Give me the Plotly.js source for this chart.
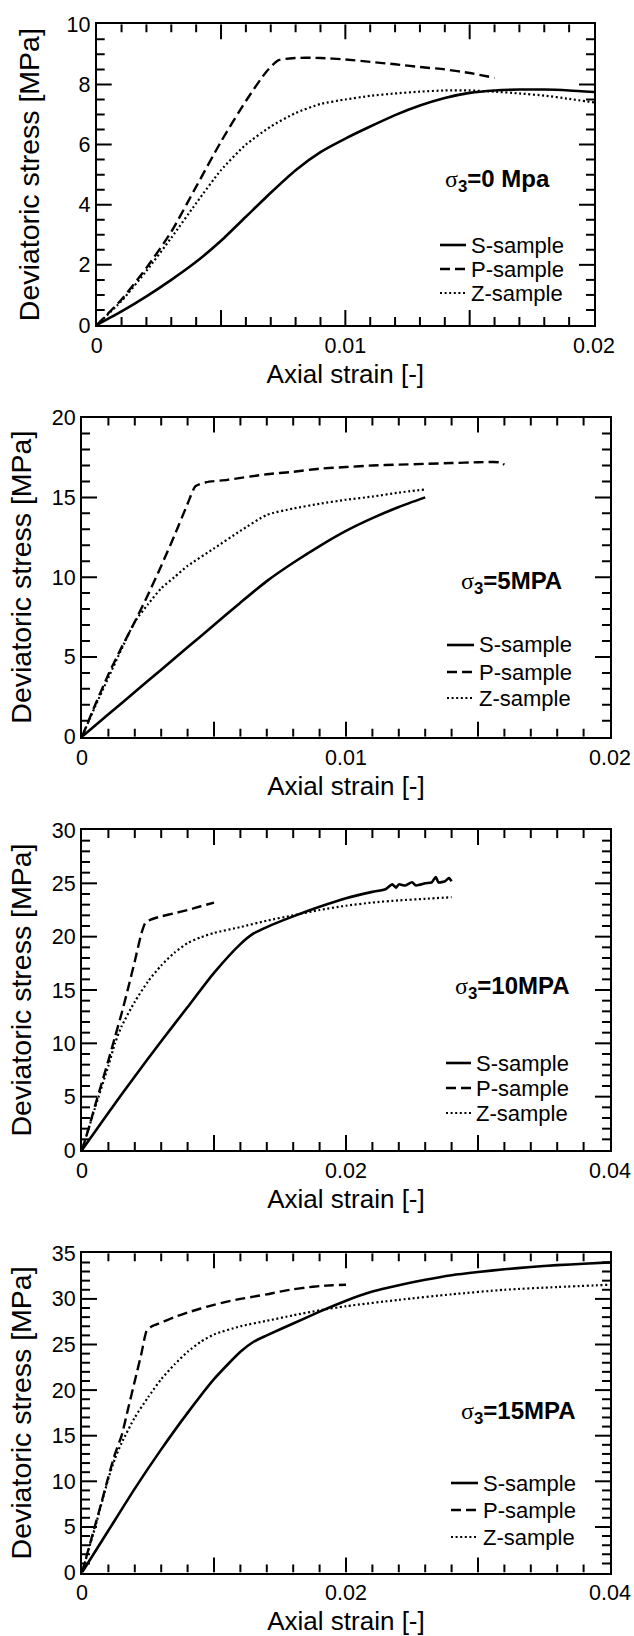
<!DOCTYPE html>
<html><head><meta charset="utf-8">
<script src="https://cdn.plot.ly/plotly-3.0.1.min.js"></script>
<style>html,body{margin:0;padding:0;background:#fff}</style>
</head><body><div id="chart" style="width:634px;height:1636px"></div>
<script>
// ---------- data ----------
// Panel 1: sigma3 = 0 MPa
const strainS0 = [0,0.001,0.002,0.003,0.004,0.005,0.006,0.007,0.008,0.009,0.010,0.011,0.012,0.013,0.014,0.015,0.016,0.017,0.018,0.019,0.020];
const stressS0 = [0,0.45,0.95,1.5,2.1,2.8,3.6,4.4,5.15,5.75,6.2,6.6,6.98,7.3,7.55,7.72,7.8,7.83,7.83,7.8,7.75];
const strainP0 = [0,0.001,0.002,0.003,0.004,0.005,0.006,0.0068,0.0073,0.008,0.009,0.010,0.011,0.012,0.013,0.014,0.015,0.016];
const stressP0 = [0,0.85,1.9,3.1,4.6,6.1,7.45,8.4,8.8,8.88,8.88,8.83,8.75,8.67,8.58,8.5,8.38,8.22];
const strainZ0 = [0,0.001,0.002,0.003,0.004,0.005,0.006,0.007,0.008,0.009,0.010,0.011,0.012,0.013,0.014,0.015,0.016,0.017,0.018,0.019,0.020];
const stressZ0 = [0,0.8,1.8,2.9,4.05,5.15,6.0,6.6,7.05,7.35,7.5,7.62,7.7,7.76,7.8,7.8,7.76,7.7,7.63,7.52,7.4];

// Panel 2: sigma3 = 5 MPa
const strainS5 = [0,0.001,0.002,0.003,0.004,0.005,0.006,0.007,0.008,0.009,0.010,0.011,0.012,0.013];
const stressS5 = [0,1.4,2.8,4.2,5.6,7.0,8.4,9.75,10.9,11.95,12.9,13.7,14.4,15.0];
const strainP5 = [0,0.0005,0.001,0.0015,0.002,0.0025,0.003,0.0035,0.004,0.0043,0.0047,0.0055,0.007,0.008,0.009,0.010,0.011,0.012,0.013,0.014,0.015,0.0158,0.016];
const stressP5 = [0,2.0,3.9,5.6,7.2,8.9,10.7,12.6,14.6,15.7,15.95,16.1,16.45,16.6,16.8,16.9,17.0,17.05,17.1,17.15,17.2,17.2,17.05];
const strainZ5 = [0,0.0005,0.001,0.0015,0.002,0.0025,0.003,0.0035,0.004,0.005,0.006,0.007,0.008,0.009,0.010,0.011,0.012,0.013];
const stressZ5 = [0,1.9,3.7,5.5,7.2,8.3,9.3,10.0,10.7,11.8,12.9,13.9,14.3,14.6,14.85,15.05,15.3,15.5];

// Panel 3: sigma3 = 10 MPa
const strainS10 = [0,0.002,0.004,0.006,0.008,0.010,0.012,0.013,0.014,0.016,0.018,0.020,0.022,0.023,0.0235,0.0238,0.024,0.0245,0.025,0.0253,0.026,0.0265,0.0268,0.027,0.0275,0.0278,0.028];
const stressS10 = [0,3.5,6.9,10.2,13.4,16.6,19.3,20.3,20.9,21.9,22.8,23.6,24.2,24.45,24.9,24.6,24.9,24.8,25.1,24.8,25.0,25.1,25.6,25.1,25.2,25.5,25.2];
const strainP10 = [0,0.0005,0.001,0.0015,0.002,0.0025,0.003,0.0035,0.004,0.0045,0.0048,0.0052,0.006,0.007,0.008,0.009,0.010];
const stressP10 = [0,2.0,4.2,6.3,8.4,10.6,12.8,15.2,17.7,20.3,21.3,21.6,21.9,22.2,22.5,22.85,23.2];
const strainZ10 = [0,0.001,0.002,0.0025,0.003,0.004,0.005,0.006,0.007,0.008,0.009,0.010,0.012,0.014,0.016,0.018,0.020,0.022,0.024,0.026,0.028];
const stressZ10 = [0,4.0,7.9,10.0,11.6,13.9,15.8,17.3,18.5,19.4,19.95,20.35,20.9,21.5,22.0,22.5,22.9,23.2,23.4,23.55,23.7];

// Panel 4: sigma3 = 15 MPa
const strainS15 = [0,0.002,0.004,0.006,0.008,0.010,0.012,0.013,0.014,0.016,0.018,0.020,0.022,0.024,0.026,0.028,0.030,0.032,0.034,0.036,0.038,0.040];
const stressS15 = [0,4.6,9.2,13.5,17.5,21.2,24.2,25.3,26.0,27.3,28.6,29.8,30.8,31.5,32.1,32.6,32.95,33.25,33.5,33.7,33.85,34.0];
const strainP15 = [0,0.0005,0.001,0.0015,0.002,0.0025,0.003,0.0035,0.004,0.0045,0.0049,0.0053,0.006,0.007,0.008,0.009,0.010,0.011,0.012,0.013,0.014,0.015,0.016,0.017,0.018,0.019,0.020];
const stressP15 = [0,2.6,5.2,7.8,10.5,13.0,15.0,18.0,21.0,24.0,26.5,27.0,27.4,28.0,28.5,28.95,29.35,29.7,30.0,30.25,30.5,30.8,31.05,31.25,31.4,31.5,31.55];
const strainZ15 = [0,0.001,0.002,0.0025,0.003,0.004,0.005,0.006,0.007,0.008,0.009,0.010,0.012,0.014,0.016,0.018,0.020,0.024,0.028,0.032,0.036,0.040];
const stressZ15 = [0,5.0,10.3,12.5,14.2,17.0,19.2,21.2,22.8,24.2,25.3,26.1,27.0,27.6,28.2,28.75,29.2,29.9,30.5,31.0,31.3,31.55];

// tick labels
const xLabels20 = [0, 0.01, 0.02];
const xLabelText20 = ['0', '0.01', '0.02'];
const xLabels40 = [0, 0.02, 0.04];
const xLabelText40 = ['0', '0.02', '0.04'];

// axis ranges and tick steps
const xRanges = [0.02, 0.02, 0.04, 0.04];
const xMajorStep = [0.005, 0.005, 0.01, 0.01];
const xMinorStep = [0.001, 0.001, 0.002, 0.002];
const yRanges = [10, 20, 30, 35];
const yMajorStep = [2, 5, 5, 5];
const yMinorStep = [0.5, 1, 1, 1];

const seriesNames = ['S-sample','P-sample','Z-sample'];
const panelLabels = ['=0 Mpa','=5MPA','=10MPA','=15MPA'];
const xTitle = 'Axial strain [-]';
const yTitle = 'Deviatoric stress [MPa]';

// ---------- layout ----------
const W = 634, H = 1636;
const fx = px => px / W;
const fy = py => 1 - py / H;
const FONT = '"Liberation Sans", Arial, Helvetica, sans-serif';

const panels = [
  {data:[[strainS0,stressS0],[strainP0,stressP0],[strainZ0,stressZ0]], box:[96.7,594,24.3,325],
   xv:xLabels20, xt:xLabelText20,
   lab:[552,181], legText:469, legLine:[440,466], legRows:[245,269,293], ystand:18},
  {data:[[strainS5,stressS5],[strainP5,stressP5],[strainZ5,stressZ5]], box:[82,610,417.6,736.7],
   xv:xLabels20, xt:xLabelText20,
   lab:[564,582], legText:477, legLine:[447,474], legRows:[645,672,698], ystand:12},
  {data:[[strainS10,stressS10],[strainP10,stressP10],[strainZ10,stressZ10]], box:[82,610,830,1150],
   xv:xLabels40, xt:xLabelText40,
   lab:[572,987], legText:474, legLine:[446,471], legRows:[1063,1088,1113], ystand:12},
  {data:[[strainS15,stressS15],[strainP15,stressP15],[strainZ15,stressZ15]], box:[82,610,1253.3,1572.5],
   xv:xLabels40, xt:xLabelText40,
   lab:[578,1412], legText:481, legLine:[451,478], legRows:[1483,1510,1537], ystand:12}
];

const lineStyles = [
  {color:'black', width:2.6},
  {color:'black', width:2.4, dash:'10px,5px'},
  {color:'black', width:2.2, dash:'2px,2.6px'}
];
const MAJOR_LEN = 15, MINOR_LEN = 8;

const traces = [];
const layout = {
  width:W, height:H, margin:{l:0,r:0,t:0,b:0}, showlegend:false,
  font:{family:FONT, color:'black'}, annotations:[], shapes:[]
};

// inward tick marks on all four sides of a panel, drawn on the panel's own axes
function tickTrace(sfx, i, pxW, pxH) {
  const xmax = xRanges[i], ymax = yRanges[i];
  const dx = px => px / pxW * xmax, dy = px => px / pxH * ymax;
  const xs = [], ys = [];
  const nx = Math.round(xmax / xMinorStep[i]), px = Math.round(xMajorStep[i] / xMinorStep[i]);
  for (let j = 1; j < nx; j++) {
    const v = +(j * xMinorStep[i]).toFixed(6), len = (j % px === 0) ? MAJOR_LEN : MINOR_LEN;
    xs.push(v, v, null, v, v, null);
    ys.push(0, dy(len), null, ymax, ymax - dy(len), null);
  }
  const ny = Math.round(ymax / yMinorStep[i]), py = Math.round(yMajorStep[i] / yMinorStep[i]);
  for (let j = 1; j < ny; j++) {
    const v = +(j * yMinorStep[i]).toFixed(6), len = (j % py === 0) ? MAJOR_LEN : MINOR_LEN;
    xs.push(0, dx(len), null, xmax, xmax - dx(len), null);
    ys.push(v, v, null, v, v, null);
  }
  return {type:'scatter', mode:'lines', x:xs, y:ys, xaxis:'x' + sfx, yaxis:'y' + sfx,
    line:{color:'black', width:2}, connectgaps:false, showlegend:false, hoverinfo:'skip', name:'ticks'};
}

panels.forEach((p, i) => {
  const n = i + 1, sfx = (n === 1 ? '' : String(n));
  const [l, r, t, b] = p.box;
  traces.push(tickTrace(sfx, i, r - l, b - t));
  p.data.forEach((d, k) => {
    traces.push({
      type:'scatter', mode:'lines', x:d[0], y:d[1], name:seriesNames[k],
      xaxis:'x' + sfx, yaxis:'y' + sfx, showlegend:false,
      line:Object.assign({}, lineStyles[k], {shape:'spline', smoothing:0.6}), hoverinfo:'skip'
    });
  });
  const base = () => ({
    showline:true, linewidth:2, linecolor:'black', mirror:true, ticks:'',
    showgrid:false, zeroline:false,
    tickfont:{family:FONT, size:21.5, color:'black'}
  });
  layout['xaxis' + sfx] = Object.assign(base(), {
    domain:[fx(l), fx(r)], anchor:'y' + sfx, range:[0, xRanges[i]],
    tickmode:'array', tickvals:p.xv, ticktext:p.xt,
    title:{text:xTitle, font:{family:FONT, size:26, color:'black'}, standoff:8}
  });
  layout['yaxis' + sfx] = Object.assign(base(), {
    domain:[fy(b), fy(t)], anchor:'x' + sfx, range:[0, yRanges[i]],
    tickmode:'linear', tick0:0, dtick:yMajorStep[i],
    title:{text:yTitle, font:{family:FONT, size:28.5, color:'black'}, standoff:p.ystand}
  });

  // key: line sample + label for each series
  p.legRows.forEach((row, k) => {
    layout.shapes.push({
      type:'line', xref:'paper', yref:'paper',
      x0:fx(p.legLine[0]), x1:fx(p.legLine[1]), y0:fy(row), y1:fy(row),
      line:Object.assign({}, lineStyles[k])
    });
    layout.annotations.push({
      xref:'paper', yref:'paper', x:fx(p.legText), y:fy(row), xanchor:'left', yanchor:'middle',
      showarrow:false, text:seriesNames[k], font:{family:FONT, size:22, color:'black'}
    });
  });
  layout.annotations.push({
    xref:'paper', yref:'paper', x:fx(p.lab[0]), y:fy(p.lab[1]), xanchor:'right', yanchor:'middle',
    showarrow:false,
    text:'<span style="font-family:\'Liberation Serif\',serif;font-weight:normal">σ</span><sub>3</sub>' + panelLabels[i],
    font:{family:FONT, size:24, color:'black', weight:'bold'}
  });
});

Plotly.newPlot('chart', traces, layout, {displayModeBar:false, staticPlot:true});
</script>
</body></html>
